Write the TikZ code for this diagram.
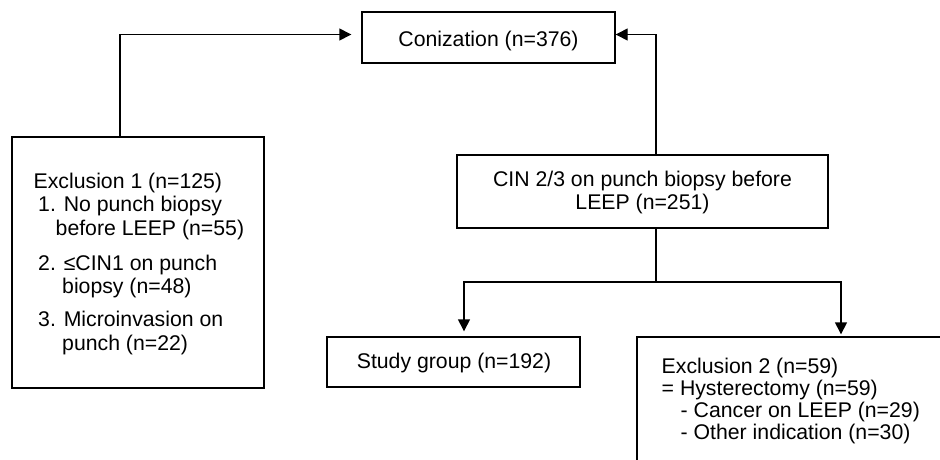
\documentclass[tikz,border=0pt]{standalone}
\usepackage{fontspec}
\setmainfont{Liberation Sans}
\usetikzlibrary{arrows.meta}
\begin{document}
\begin{tikzpicture}[x=1pt,y=-1pt,line width=1.4pt,
  box/.style={draw,line width=1.4pt,inner sep=0pt},
  txt/.style={inner sep=0pt,anchor=base west,font=\fontsize{21.25}{22.6}\selectfont},
  ctxt/.style={inner sep=0pt,anchor=base,font=\fontsize{21.25}{22.6}\selectfont},
  arr/.style={-{Triangle[length=12pt,width=12pt]}}]
\useasboundingbox (0,0) rectangle (940,459);
% boxes
\node[box,minimum width=253pt,minimum height=51pt] (conz) at (488.5,37.5) {};
\node[box,minimum width=252pt,minimum height=251pt] (excl1) at (138,262.5) {};
\node[box,minimum width=371pt,minimum height=73pt] (cin) at (642.5,191.5) {};
\node[box,minimum width=253pt,minimum height=50pt] (study) at (453.5,362) {};
\node[box,minimum width=408pt,minimum height=140pt] (excl2) at (841,407) {};
% texts
\node[ctxt] (tconz) at (488.5,46.7) {Conization (n=376)};
\node[ctxt] (tcin1) at (642.5,186.7) {CIN 2/3 on punch biopsy before};
\node[ctxt] (tcin2) at (642.5,209.3) {LEEP (n=251)};
\node[ctxt] (tstudy) at (454,368.3) {Study group (n=192)};
\node[txt] (e1a) at (33,188) {Exclusion 1 (n=125)};
\node[txt] (e1b) at (37.5,211.7) {1. No punch biopsy};
\node[txt] (e1c) at (55,235) {before LEEP (n=55)};
\node[txt] (e1d) at (37.5,270) {2. ≤CIN1 on punch};
\node[txt] (e1e) at (61.5,293.3) {biopsy (n=48)};
\node[txt] (e1f) at (37.5,326.7) {3. Microinvasion on};
\node[txt] (e1g) at (61.5,350) {punch (n=22)};
\node[txt] (e2a) at (661,373) {Exclusion 2 (n=59)};
\node[txt] (e2b) at (661,395) {= Hysterectomy (n=59)};
\node[txt] (e2c) at (680,417) {- Cancer on LEEP (n=29)};
\node[txt] (e2d) at (680,439) {- Other indication (n=30)};
% connectors
\draw[arr] ([xshift=-18pt]excl1.north) |- ([xshift=-10pt,yshift=3pt]conz.west);
\draw[arr] ([xshift=13.5pt]cin.north) |- ([yshift=3pt]conz.east);
\coordinate (split) at (656,282);
\draw ([xshift=13.5pt]cin.south) -- (split);
\draw[arr] (split) -| ([xshift=10.5pt,yshift=5pt]study.north);
\draw[arr] (split) -| ([yshift=2pt]excl2.north);
\end{tikzpicture}
\end{document}
